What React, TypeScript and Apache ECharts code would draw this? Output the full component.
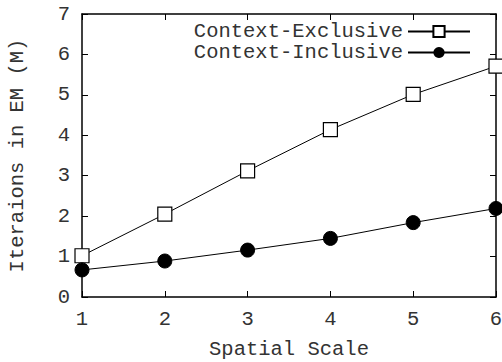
import React, { useEffect, useRef } from "react";
import * as echarts from "echarts";

const scales = [1, 2, 3, 4, 5, 6];
const exclusive = [1.02, 2.05, 3.12, 4.14, 5.01, 5.71];
const inclusive = [0.67, 0.89, 1.16, 1.45, 1.84, 2.19];
const seriesNames = ["Context-Exclusive", "Context-Inclusive"];
const xName = "Spatial Scale";
const yName = "Iteraions in EM (M)";

const FONT = "Liberation Mono";
const TXT = "#333";
const FS = 20.5;

export default function App() {
  const ref = useRef<HTMLDivElement>(null);
  useEffect(() => {
    const chart = echarts.init(ref.current!, null, { renderer: "svg", width: 502, height: 362 });
    const axisCommon = {
      type: "value" as const,
      axisLine: { show: true, onZero: false, lineStyle: { color: "#000", width: 1.5 } },
      axisTick: { show: true, inside: true, length: 6, lineStyle: { color: "#000", width: 1 } },
      splitLine: { show: false },
    };
    chart.setOption({
      animation: false,
      backgroundColor: "#fff",
      grid: {
        left: 82,
        right: 6,
        top: 14,
        bottom: 65,
        containLabel: false,
        outerBoundsMode: "none",
      },
      legend: {
        orient: "vertical",
        align: "right",
        right: 31,
        top: 21,
        itemWidth: 62,
        itemHeight: 14,
        itemGap: 0,
        padding: 0,
        textStyle: { fontFamily: FONT, fontSize: FS, color: TXT, lineHeight: 21 },
        data: seriesNames,
      },
      xAxis: [
        {
          ...axisCommon,
          min: 1,
          max: 6,
          interval: 1,
          name: xName,
          nameLocation: "middle",
          nameGap: 42,
          nameTextStyle: { fontFamily: FONT, fontSize: FS, color: TXT },
          axisLabel: { fontFamily: FONT, fontSize: FS, color: TXT, margin: 12 },
        },
        {
          ...axisCommon,
          position: "top",
          min: 1,
          max: 6,
          interval: 1,
          axisLabel: { show: false },
        },
      ],
      yAxis: [
        {
          ...axisCommon,
          min: 0,
          max: 7,
          interval: 1,
          name: yName,
          nameLocation: "middle",
          nameGap: 54,
          nameTextStyle: { fontFamily: FONT, fontSize: FS, color: TXT },
          axisLabel: { fontFamily: FONT, fontSize: FS, color: TXT, margin: 12 },
        },
        {
          ...axisCommon,
          position: "right",
          min: 0,
          max: 7,
          interval: 1,
          axisLabel: { show: false },
        },
      ],
      series: [
        {
          name: seriesNames[0],
          type: "line",
          data: scales.map((x, i) => [x, exclusive[i]]),
          symbol: "rect",
          symbolSize: 14,
          clip: false,
          lineStyle: { color: "#000", width: 1 },
          itemStyle: { color: "#fff", borderColor: "#000", borderWidth: 1.2 },
        },
        {
          name: seriesNames[1],
          type: "line",
          data: scales.map((x, i) => [x, inclusive[i]]),
          symbol: "circle",
          symbolSize: 14,
          clip: false,
          lineStyle: { color: "#000", width: 1 },
          itemStyle: { color: "#000", borderColor: "#000" },
        },
      ],
    });
    return () => chart.dispose();
  }, []);
  return (
    <div
      ref={ref}
      style={{ position: "fixed", left: 0, top: 0, width: 502, height: 362 }}
    />
  );
}
